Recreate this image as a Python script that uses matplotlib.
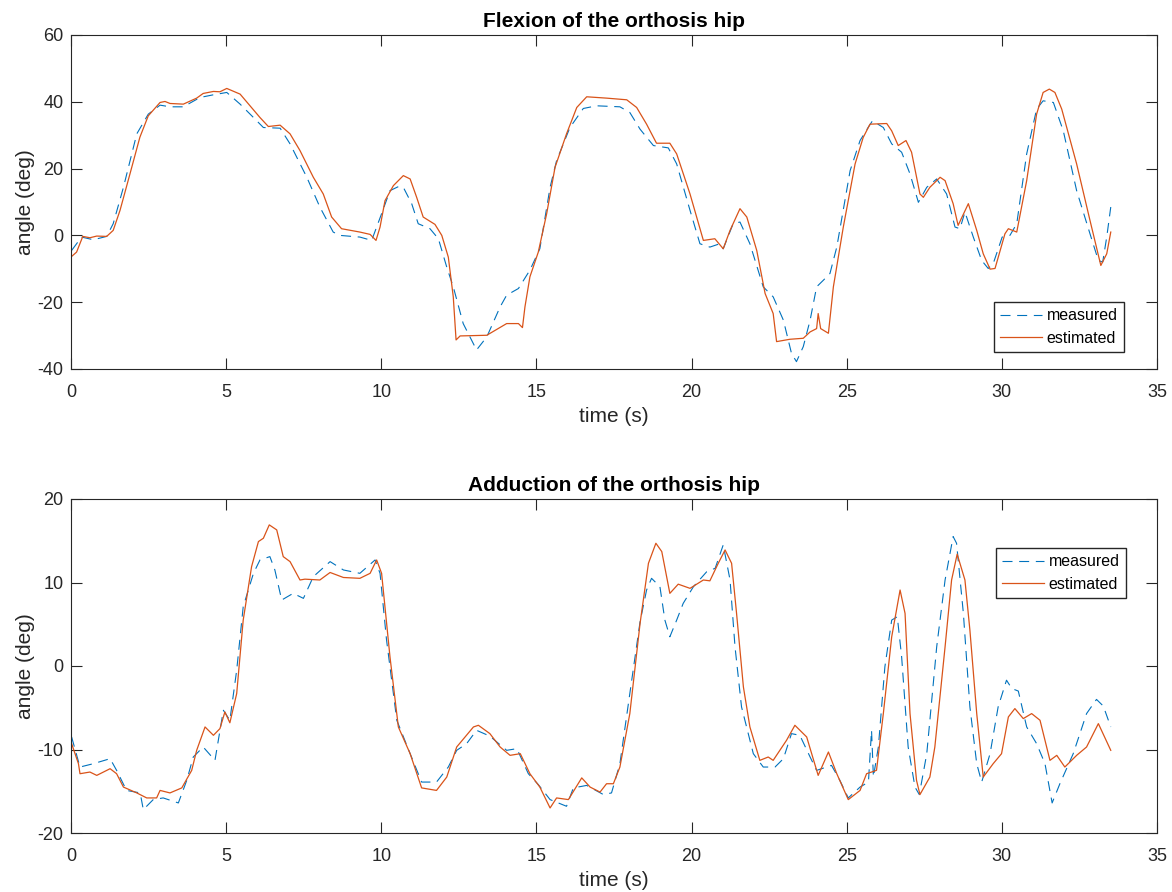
import matplotlib
matplotlib.use("Agg")
import matplotlib.pyplot as plt

# ---- Flexion (top) : measured / estimated, time (s) vs angle (deg)
flex_meas_t = [0.02, 0.34, 0.72, 1.15, 1.36, 1.69, 2.12, 2.49, 2.87, 3.19, 3.62, 4.16, 4.59, 5.02,
               5.45, 5.88, 6.20, 6.74, 7.06, 7.60, 8.02, 8.45, 8.67, 9.31, 9.69, 10.01, 10.28, 10.55,
               10.71, 10.98, 11.19, 11.57, 11.84, 12.11, 12.32, 12.64, 13.07, 13.40, 13.83, 14.04,
               14.42, 14.79, 15.11, 15.44, 15.65, 16.08, 16.51, 16.94, 17.69, 18.01, 18.34, 18.77,
               19.25, 19.52, 19.95, 20.27, 20.59, 20.91, 21.02, 21.34, 21.56, 21.88, 22.31, 22.63,
               22.96, 23.22, 23.38, 23.60, 23.82, 24.03, 24.25, 24.46, 24.68, 25.11, 25.43, 25.69,
               25.83, 26.18, 26.45, 26.77, 27.04, 27.31, 27.58, 27.90, 28.22, 28.49, 28.65, 28.81,
               29.08, 29.35, 29.56, 29.72, 30.01, 30.26, 30.48, 30.80, 31.12, 31.33, 31.66, 31.98,
               32.41, 32.84, 33.11, 33.25, 33.38, 33.51]
flex_meas = [-4.5, -0.5, -1.3, -0.3, 3.5, 14.4, 30.4, 36.3, 39.0, 38.5, 38.5, 41.3, 42.1, 42.8,
             39.3, 35.3, 32.3, 32.1, 27.4, 17.4, 8.5, 1.0, 0.0, -0.5, -1.5, 6.5, 13.4, 14.6,
             14.4, 9.5, 3.5, 2.0, -1.0, -9.5, -15.4, -26.4, -34.3, -30.4, -21.4, -17.9,
             -15.9, -10.4, -4.0, 14.4, 22.4, 32.3, 38.0, 38.8, 38.5, 36.8, 31.8, 26.9,
             26.2, 21.4, 7.5, -2.5, -3.5, -2.5, -4.0, 3.5, 4.0, -2.5, -15.4, -18.4,
             -25.4, -35.3, -37.8, -33.3, -25.4, -15.4, -13.4, -11.4, -3.5, 19.4, 28.4, 32.3,
             34.3, 32.3, 27.4, 24.9, 18.4, 9.9, 14.4, 16.9, 12.4, 2.5, 2.0, 7.0,
             -0.5, -7.5, -9.9, -8.5, -0.5, 0.0, 3.5, 24.4, 37.8, 40.3, 39.8, 31.3,
             13.4, 0.5, -7.5, -8.0, -0.5, 8.5]

flex_est_t = [0.02, 0.18, 0.38, 0.61, 0.83, 1.15, 1.36, 1.58, 1.90, 2.22, 2.49, 2.87, 3.03, 3.19,
              3.62, 4.05, 4.26, 4.59, 4.80, 5.02, 5.45, 5.77, 6.09, 6.36, 6.74, 7.06, 7.38, 7.81,
              8.13, 8.40, 8.72, 9.31, 9.64, 9.83, 9.96, 10.12, 10.39, 10.71, 10.93, 11.14, 11.35,
              11.73, 11.95, 12.16, 12.32, 12.41, 12.54, 13.40, 14.04, 14.42, 14.55, 14.63, 14.79,
              15.06, 15.33, 15.60, 15.97, 16.30, 16.62, 17.26, 17.91, 18.23, 18.55, 18.87, 19.30,
              19.52, 19.95, 20.38, 20.75, 21.02, 21.24, 21.56, 21.78, 22.10, 22.37, 22.63, 22.74,
              23.17, 23.60, 23.82, 24.03, 24.08, 24.16, 24.41, 24.57, 24.89, 25.27, 25.53, 25.75,
              26.29, 26.45, 26.66, 26.91, 27.09, 27.36, 27.47, 27.68, 28.01, 28.17, 28.43, 28.59,
              28.92, 29.19, 29.40, 29.62, 29.78, 30.10, 30.21, 30.48, 30.80, 31.12, 31.33, 31.53,
              31.71, 31.93, 32.41, 32.84, 33.19, 33.38, 33.51]
flex_est = [-6.3, -5.0, -0.3, -0.7, -0.2, -0.3, 1.5, 7.5, 18.4, 29.4, 35.8, 39.8, 40.1, 39.5,
            39.3, 41.1, 42.5, 43.1, 43.0, 44.0, 42.3, 38.8, 35.3, 32.6, 33.0, 30.4, 25.4, 17.4,
            12.4, 5.5, 2.0, 1.0, 0.3, -1.5, 2.5, 10.4, 14.9, 17.9, 16.9, 11.4, 5.5,
            3.3, 0.0, -6.5, -18.4, -31.3, -30.1, -29.9, -26.4, -26.4, -27.6, -21.4, -12.4,
            -5.0, 6.5, 20.4, 30.4, 38.3, 41.5, 41.1, 40.6, 38.3, 33.3, 27.6, 27.6,
            24.4, 12.4, -1.5, -1.0, -4.0, 1.5, 8.0, 5.5, -4.5, -17.4, -23.4, -31.8,
            -31.1, -30.8, -28.9, -27.9, -23.4, -27.9, -29.3, -15.4, 2.5, 21.4, 29.3, 33.3,
            33.5, 31.3, 26.9, 28.4, 24.9, 12.4, 11.4, 14.4, 17.4, 16.4, 9.5, 3.0,
            9.5, 1.5, -5.5, -10.1, -9.9, 0.5, 2.0, 1.0, 16.4, 36.3, 42.8, 43.8,
            42.8, 37.8, 21.4, 4.5, -9.0, -5.5, 1.0]

# ---- Adduction (bottom)
add_meas_t = [0.02, 0.29, 0.72, 1.26, 1.47, 1.79, 2.23, 2.33, 2.65, 2.97, 3.46, 3.73, 3.94, 4.26,
              4.64, 4.91, 5.12, 5.34, 5.55, 5.88, 6.09, 6.41, 6.57, 6.79, 7.16, 7.49, 7.81, 8.35,
              8.78, 9.31, 9.80, 9.96, 10.17, 10.50, 10.93, 11.30, 11.78, 12.16, 12.43, 12.75,
              13.07, 13.50, 14.04, 14.37, 14.74, 15.06, 15.44, 15.97, 16.19, 16.62, 17.16, 17.42,
              17.69, 18.01, 18.34, 18.55, 18.71, 18.98, 19.14, 19.30, 19.52, 19.73, 20.06, 20.49,
              20.76, 21.02, 21.24, 21.40, 21.61, 21.99, 22.31, 22.69, 22.96, 23.22, 23.49, 23.82,
              24.03, 24.51, 24.78, 25.05, 25.43, 25.70, 25.80, 25.86, 26.02, 26.23, 26.45, 26.63,
              26.77, 26.98, 27.20, 27.34, 27.58, 27.90, 28.17, 28.43, 28.54, 28.76, 28.97, 29.19,
              29.35, 29.62, 29.88, 30.15, 30.32, 30.53, 30.80, 31.12, 31.39, 31.62, 31.87, 32.30,
              32.73, 33.05, 33.27, 33.51]
add_meas = [-8.5, -12.1, -11.7, -11.1, -12.5, -14.9, -15.2, -17.2, -16.0, -15.8, -16.4, -13.7, -10.9, -9.7,
            -11.3, -5.3, -6.5, -0.5, 7.1, 11.1, 12.7, 13.1, 11.5, 7.9, 8.7, 8.1, 10.7, 12.5,
            11.5, 11.1, 12.7, 11.1, 3.1, -6.5, -10.5, -13.9, -13.9, -12.1, -10.1, -9.3,
            -7.7, -8.4, -10.1, -9.9, -12.9, -14.2, -16.0, -16.8, -14.6, -14.3, -15.4, -15.2,
            -11.7, -3.3, 5.3, 9.1, 10.5, 9.5, 5.5, 3.5, 5.5, 7.5, 9.5, 11.3,
            11.7, 14.5, 10.3, 2.3, -4.9, -10.5, -12.1, -12.1, -11.1, -8.1, -8.3, -10.9,
            -12.5, -11.9, -13.7, -15.8, -14.5, -13.9, -7.7, -13.3, -9.7, -0.1, 5.5, 5.9,
            1.1, -9.7, -14.5, -15.4, -10.5, 2.3, 10.3, 15.5, 14.7, 6.3, -4.9, -11.7,
            -13.9, -10.5, -4.9, -1.7, -2.7, -3.0, -7.3, -9.3, -11.7, -16.4, -14.1, -10.5,
            -5.7, -4.0, -4.8, -7.3]

add_est_t = [0.02, 0.24, 0.29, 0.61, 0.83, 1.26, 1.47, 1.69, 2.12, 2.44, 2.76, 2.87, 3.19, 3.57,
             3.89, 4.05, 4.32, 4.59, 4.80, 4.96, 5.12, 5.34, 5.55, 5.82, 6.04, 6.20, 6.39, 6.63,
             6.84, 7.06, 7.38, 7.54, 8.02, 8.35, 8.78, 9.31, 9.64, 9.85, 10.01, 10.28, 10.55,
             10.93, 11.30, 11.78, 12.11, 12.43, 12.97, 13.13, 13.50, 13.83, 14.15, 14.48, 14.79,
             15.11, 15.44, 15.65, 16.03, 16.46, 16.73, 17.05, 17.26, 17.48, 17.69, 18.01, 18.34,
             18.61, 18.85, 19.04, 19.30, 19.57, 19.95, 20.38, 20.59, 20.86, 21.08, 21.29, 21.45,
             21.67, 21.88, 22.20, 22.47, 22.63, 23.06, 23.33, 23.71, 24.08, 24.41, 24.68, 25.05,
             25.43, 25.64, 25.96, 26.18, 26.45, 26.72, 26.88, 27.04, 27.25, 27.36, 27.68, 27.84,
             28.17, 28.38, 28.56, 28.81, 28.97, 29.19, 29.40, 29.72, 29.99, 30.21, 30.42, 30.69,
             30.96, 31.23, 31.55, 31.77, 32.03, 32.41, 32.73, 33.11, 33.51]
add_est = [-9.3, -11.7, -12.9, -12.7, -13.1, -12.3, -12.9, -14.5, -15.2, -15.8, -15.8, -14.9, -15.2, -14.6,
           -12.5, -10.1, -7.3, -8.3, -7.5, -5.5, -6.8, -3.3, 5.5, 11.9, 14.9, 15.3, 16.9, 16.3,
           13.1, 12.5, 10.3, 10.4, 10.3, 11.2, 10.6, 10.5, 11.1, 12.7, 11.1, 1.1, -7.3,
           -10.5, -14.6, -14.9, -13.3, -9.7, -7.3, -7.1, -8.1, -9.7, -10.7, -10.5, -12.9,
           -14.5, -17.0, -15.8, -16.0, -13.4, -14.5, -15.1, -14.1, -14.1, -12.1, -5.7, 5.1,
           12.3, 14.7, 13.7, 8.7, 9.8, 9.3, 10.3, 10.2, 12.3, 13.9, 12.3, 6.3,
           -2.5, -7.3, -11.3, -10.9, -11.3, -8.9, -7.1, -8.5, -13.1, -10.3, -12.9, -16.0,
           -14.9, -12.9, -12.5, -5.7, 3.5, 9.1, 6.3, -5.7, -13.7, -15.4, -13.3, -9.7,
           2.3, 10.3, 13.4, 10.3, 4.3, -5.7, -13.3, -11.7, -10.5, -6.1, -5.1, -6.3,
           -5.7, -6.5, -11.3, -10.7, -12.1, -10.7, -9.7, -6.9, -10.1]

BLUE = "#0072BD"
ORANGE = "#D95319"
INK = "#262626"

plt.rcParams["font.family"] = ["Liberation Sans", "DejaVu Sans"]
plt.rcParams["axes.unicode_minus"] = False  # MATLAB style hyphen minus

fig = plt.figure(figsize=(11.72, 8.92), dpi=100)
ax_top = fig.add_axes([71 / 1172, 1 - 369 / 892, 1086 / 1172, 334 / 892])
ax_bot = fig.add_axes([71 / 1172, 1 - 833 / 892, 1086 / 1172, 334 / 892])


def style_axes(ax, title, ylim, yticks):
    ax.set_xlim(0, 35)
    ax.set_ylim(*ylim)
    ax.set_xticks(range(0, 36, 5))
    ax.set_yticks(yticks)
    ax.set_title(title, fontsize=15, fontweight="bold", color="black", pad=6)
    ax.set_xlabel("time (s)", fontsize=15, color=INK, labelpad=4)
    ax.set_ylabel("angle (deg)", fontsize=15, color=INK, labelpad=2)
    ax.tick_params(direction="in", length=8, width=0.8, top=True, right=True,
                   labelsize=13, colors=INK)
    ax.tick_params(axis="x", pad=11)
    ax.tick_params(axis="y", pad=5.5)
    for sp in ax.spines.values():
        sp.set_color(INK)
        sp.set_linewidth(0.8)


leg_kw = dict(fontsize=11.5, fancybox=False, framealpha=1, edgecolor=INK,
              handlelength=2.6, borderpad=0.4, labelspacing=0.45,
              handletextpad=0.3, borderaxespad=0)

# ---- top
ax_top.plot(flex_meas_t, flex_meas, color=BLUE, lw=0.8, dashes=(9, 6), label="measured")
ax_top.plot(flex_est_t, flex_est, color=ORANGE, lw=0.9, label="estimated")
style_axes(ax_top, "Flexion of the orthosis hip", (-40, 60), range(-40, 61, 20))
ax_top.legend(loc="lower right", bbox_to_anchor=(0.9696, 0.051), **leg_kw)

# ---- bottom
ax_bot.plot(add_meas_t, add_meas, color=BLUE, lw=0.8, dashes=(9, 6), label="measured")
ax_bot.plot(add_est_t, add_est, color=ORANGE, lw=0.9, label="estimated")
style_axes(ax_bot, "Adduction of the orthosis hip", (-20, 20), range(-20, 21, 10))
ax_bot.legend(loc="upper right", bbox_to_anchor=(0.9715, 0.853), **leg_kw)

fig.savefig("out.png", dpi=100)
